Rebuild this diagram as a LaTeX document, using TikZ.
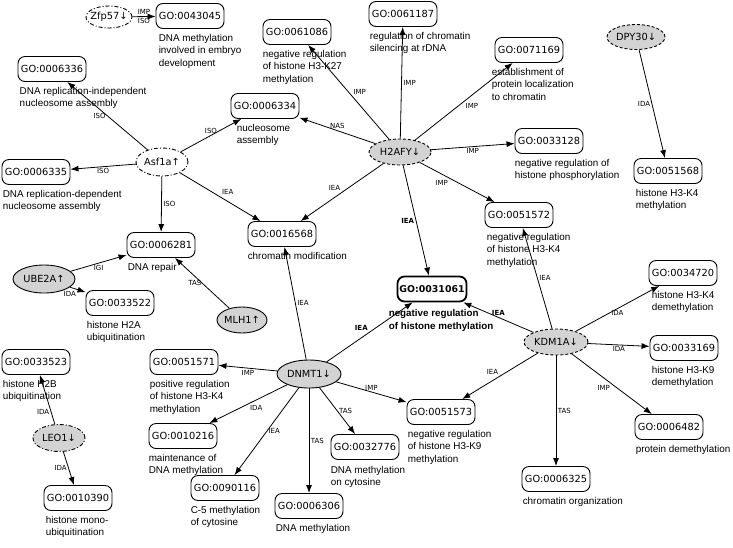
\documentclass[tikz,border=0pt]{standalone}
\usepackage{fontspec}
\setmainfont{Liberation Sans}
\newfontfamily\dvs{DejaVu Sans}
\usetikzlibrary{shapes,arrows.meta,positioning}
\definecolor{genegray}{HTML}{D3D3D3}
\tikzstyle{goterm}=[rectangle,draw,rounded corners=7pt,line width=0.9pt,minimum width=68pt,minimum height=25pt,inner sep=0pt,font=\dvs\fontsize{9.8}{11}\selectfont]
\tikzstyle{gene}=[ellipse,draw,line width=0.9pt,fill=genegray,inner xsep=-8pt,inner ysep=0pt,minimum height=26pt,font=\dvs\fontsize{9.8}{11}\selectfont]
\tikzstyle{dashgene}=[gene,dash pattern=on 3pt off 2pt]
\tikzstyle{dotgene}=[gene,dash pattern=on 4pt off 2pt on 1pt off 2pt]
\tikzstyle{desc}=[inner sep=0pt,align=left,font=\fontsize{9.9}{12.4}\selectfont]
\tikzstyle{ev}=[inner sep=1.5pt,font=\dvs\fontsize{7}{8}\selectfont]
\tikzstyle{evb}=[inner sep=1.5pt,font=\dvs\bfseries\fontsize{7}{8}\selectfont]
\tikzstyle{arr}=[-{Latex[length=8pt,width=6pt]},line width=0.8pt]

\begin{document}
\begin{tikzpicture}[x=1pt,y=-1pt]
\useasboundingbox (0,0) rectangle (733,547);
% gene products
\node[dotgene,fill=white,minimum width=46pt,minimum height=22pt] (zfp57) at (109,17) {Zfp57↓};
\node[dotgene,fill=white,minimum width=52pt,minimum height=28pt] (asf1a) at (162,162) {Asf1a↑};
\node[dashgene,minimum width=62pt] (h2afy) at (400,152) {H2AFY↓};
\node[dashgene,minimum width=58pt,minimum height=25pt] (dpy30) at (636,37) {DPY30↓};
\node[gene,minimum width=62pt,minimum height=28pt] (ube2a) at (44,279) {UBE2A↑};
\node[gene,minimum width=50pt] (mlh1) at (242,320) {MLH1↑};
\node[dotgene,minimum width=52pt,minimum height=27pt] (leo1) at (59,438) {LEO1↓};
\node[gene,minimum width=64pt,minimum height=28pt] (dnmt1) at (309,374) {DNMT1↓};
\node[dashgene,minimum width=64pt] (kdm1a) at (556,342) {KDM1A↓};
% GO terms
\node[goterm] (g0043045) at (190,16) {GO:0043045};
\node[goterm] (g0006336) at (52,69) {GO:0006336};
\node[goterm] (g0006335) at (36,172) {GO:0006335};
\node[goterm] (g0006334) at (265,106) {GO:0006334};
\node[goterm] (g0061086) at (297,32) {GO:0061086};
\node[goterm] (g0061187) at (403,14) {GO:0061187};
\node[goterm] (g0071169) at (529,50) {GO:0071169};
\node[goterm] (g0033128) at (549,141) {GO:0033128};
\node[goterm] (g0051568) at (668,171) {GO:0051568};
\node[goterm] (g0016568) at (282,234) {GO:0016568};
\node[goterm] (g0006281) at (161,245) {GO:0006281};
\node[goterm] (g0033522) at (120,303) {GO:0033522};
\node[goterm,line width=1.8pt,minimum width=69pt,font=\dvs\bfseries\fontsize{9.4}{11}\selectfont] (g0031061) at (432,289) {GO:0031061};
\node[goterm] (g0051572) at (519,215) {GO:0051572};
\node[goterm] (g0034720) at (683,273) {GO:0034720};
\node[goterm] (g0033169) at (684,348) {GO:0033169};
\node[goterm] (g0006482) at (669,427) {GO:0006482};
\node[goterm] (g0006325) at (556,479) {GO:0006325};
\node[goterm] (g0051573) at (441,412) {GO:0051573};
\node[goterm] (g0032776) at (365,447) {GO:0032776};
\node[goterm] (g0006306) at (309,506) {GO:0006306};
\node[goterm] (g0090116) at (225,488) {GO:0090116};
\node[goterm] (g0010216) at (183,436) {GO:0010216};
\node[goterm] (g0051571) at (184,362) {GO:0051571};
\node[goterm] (g0033523) at (36,362) {GO:0033523};
\node[goterm] (g0010390) at (78,498) {GO:0010390};
% term names
\node[desc,below right=5pt and 3pt of g0043045.south west] (d0043045) {DNA methylation\\involved in embryo\\development};
\node[desc,below right=5pt and 2pt of g0006336.south west] (d0006336) {DNA replication-independent\\nucleosome assembly};
\node[desc,below right=5pt and 1pt of g0006335.south west] (d0006335) {DNA replication-dependent\\nucleosome assembly};
\node[desc,below right=5pt and 6pt of g0006334.south west] (d0006334) {nucleosome\\assembly};
\node[desc,below right=5pt and 0pt of g0061086.south west] (d0061086) {negative regulation\\of histone H3-K27\\methylation};
\node[desc,below right=5pt and 1pt of g0061187.south west] (d0061187) {regulation of chromatin\\silencing at rDNA};
\node[desc,below right=5pt and -3pt of g0071169.south west] (d0071169) {establishment of\\protein localization\\to chromatin};
\node[desc,below right=5pt and 0pt of g0033128.south west] (d0033128) {negative regulation of\\histone phosphorylation};
\node[desc,below right=5pt and 2pt of g0051568.south west] (d0051568) {histone H3-K4\\methylation};
\node[desc,below right=5pt and 0pt of g0016568.south west] (d0016568) {chromatin modification};
\node[desc,below right=5pt and 1pt of g0006281.south west] (d0006281) {DNA repair};
\node[desc,below right=5pt and 1pt of g0033522.south west] (d0033522) {histone H2A\\ubiquitination};
\node[desc,below right=7pt and -8pt of g0031061.south west,font=\bfseries\fontsize{9.8}{12.4}\selectfont] (d0031061) {negative regulation\\of histone methylation};
\node[desc,below right=5pt and 2pt of g0051572.south west] (d0051572) {negative regulation\\of histone H3-K4\\methylation};
\node[desc,below right=5pt and 3pt of g0034720.south west] (d0034720) {histone H3-K4\\demethylation};
\node[desc,below right=5pt and 2pt of g0033169.south west] (d0033169) {histone H3-K9\\demethylation};
\node[desc,below right=5pt and 1pt of g0006482.south west] (d0006482) {protein demethylation};
\node[desc,below right=5pt and 1pt of g0006325.south west] (d0006325) {chromatin organization};
\node[desc,below right=5pt and 1pt of g0051573.south west] (d0051573) {negative regulation\\of histone H3-K9\\methylation};
\node[desc,below right=6pt and 0pt of g0032776.south west] (d0032776) {DNA methylation\\on cytosine};
\node[desc,below right=5pt and 1pt of g0006306.south west] (d0006306) {DNA methylation};
\node[desc,below right=5pt and 0pt of g0090116.south west] (d0090116) {C-5 methylation\\of cytosine};
\node[desc,below right=5pt and 0pt of g0010216.south west] (d0010216) {maintenance of\\DNA methylation};
\node[desc,below right=5pt and 0pt of g0051571.south west] (d0051571) {positive regulation\\of histone H3-K4\\methylation};
\node[desc,below right=5pt and 1pt of g0033523.south west] (d0033523) {histone H2B\\ubiquitination};
\node[desc,below right=5pt and 2pt of g0010390.south west] (d0010390) {histone mono-\\ubiquitination};
% annotations
\draw[arr] (zfp57) -- node[ev,above]{IMP} node[ev,below]{ISO} (g0043045);
\draw[arr] (asf1a) -- node[ev,left]{ISO} (g0006336);
\draw[arr] (asf1a) -- node[ev,below]{ISO} (g0006335);
\draw[arr] (asf1a) -- node[ev,above]{ISO} (g0006334);
\draw[arr] (asf1a) -- node[ev,above right]{IEA} (g0016568);
\draw[arr] (asf1a) -- node[ev,right]{ISO} (g0006281);
\draw[arr] (h2afy) -- node[ev,above]{NAS} (g0006334);
\draw[arr] (h2afy) -- node[ev,right=3pt]{IMP} (g0061086);
\draw[arr] (h2afy) -- node[ev,right]{IMP} (g0061187);
\draw[arr] (h2afy) -- node[ev,below right]{IMP} (g0071169);
\draw[arr] (h2afy) -- node[ev,below]{IMP} (g0033128);
\draw[arr] (h2afy) -- node[ev,below left,pos=.4]{IMP} (g0051572);
\draw[arr] (h2afy) -- node[ev,above left]{IEA} (g0016568);
\draw[arr] (h2afy) -- node[evb,left]{IEA} (g0031061);
\draw[arr] (dpy30) -- node[ev,left]{IDA} (g0051568);
\draw[arr] (ube2a) -- node[ev,below]{IGI} (g0006281);
\draw[arr] (ube2a) -- node[ev,below left]{IDA} (g0033522);
\draw[arr] (mlh1) -- node[ev,left=-1pt]{TAS} (g0006281);
\draw[arr] (leo1) -- node[ev,left,pos=.25]{IDA} (g0033523);
\draw[arr] (leo1) -- node[ev,left]{IDA} (g0010390);
\draw[arr] (dnmt1) -- node[ev,right]{IEA} (g0016568);
\draw[arr] (dnmt1) -- node[evb,above left]{IEA} (g0031061);
\draw[arr] (dnmt1) -- node[ev,below]{IMP} (g0051571);
\draw[arr] (dnmt1) -- node[ev,below right]{IDA} (g0010216);
\draw[arr] (dnmt1) -- node[ev,right]{IEA} (g0090116);
\draw[arr] (dnmt1) -- node[ev,right]{TAS} (g0006306);
\draw[arr] (dnmt1) -- node[ev,right]{TAS} (g0032776);
\draw[arr] (dnmt1) -- node[ev,above]{IMP} (g0051573);
\draw[arr] (kdm1a) -- node[evb,above]{IEA} (g0031061);
\draw[arr] (kdm1a) -- node[ev,right]{IEA} (g0051572);
\draw[arr] (kdm1a) -- node[ev,below]{IDA} (g0034720);
\draw[arr] (kdm1a) -- node[ev,below]{IDA} (g0033169);
\draw[arr] (kdm1a) -- node[ev,below left]{IMP} (g0006482);
\draw[arr] (kdm1a) -- node[ev,right]{TAS} (g0006325);
\draw[arr] (kdm1a) -- node[ev,above left]{IEA} (g0051573);
\end{tikzpicture}
\end{document}
